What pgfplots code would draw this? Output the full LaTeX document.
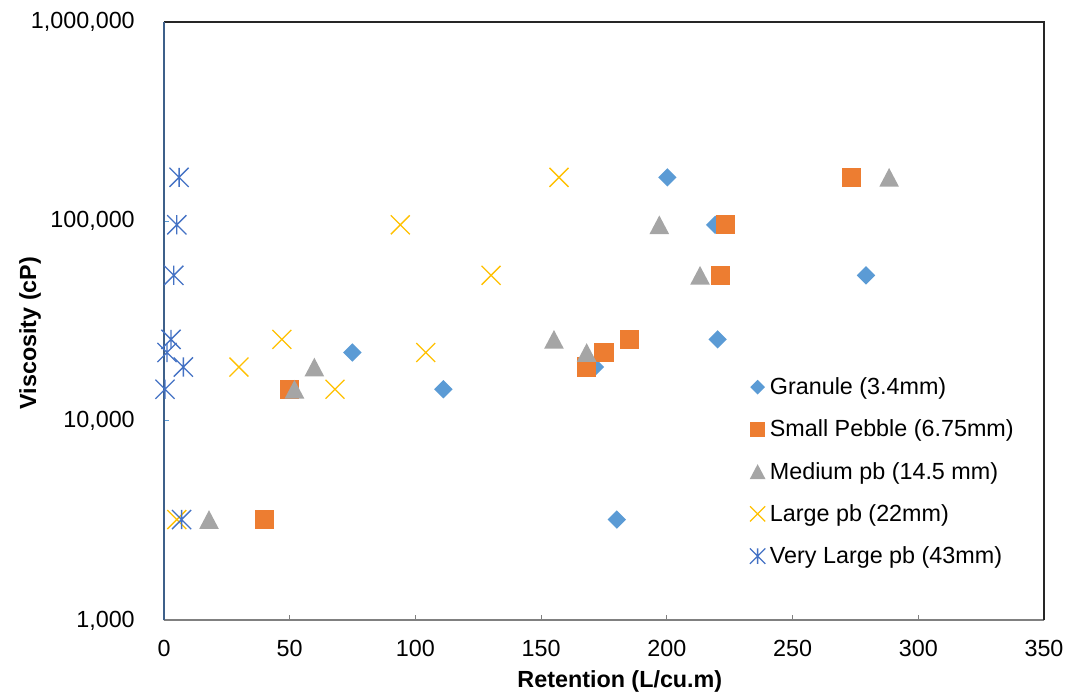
\documentclass[border=0pt]{standalone}
\usepackage{fontspec}
\setmainfont{Liberation Sans}
\usepackage{pgfplots}
\pgfplotsset{compat=1.18}
\usetikzlibrary{plotmarks}

\definecolor{cGran}{HTML}{5B9BD5}
\definecolor{cSmall}{HTML}{ED7D31}
\definecolor{cMed}{HTML}{A5A5A5}
\definecolor{cLarge}{HTML}{FFC000}
\definecolor{cVL}{HTML}{4472C4}
\definecolor{cYaxis}{RGB}{62,96,138}

\pgfdeclareplotmark{xdiamond}{%
  \pgfpathmoveto{\pgfqpoint{0pt}{\pgfplotmarksize}}%
  \pgfpathlineto{\pgfqpoint{\pgfplotmarksize}{0pt}}%
  \pgfpathlineto{\pgfqpoint{0pt}{-\pgfplotmarksize}}%
  \pgfpathlineto{\pgfqpoint{-\pgfplotmarksize}{0pt}}%
  \pgfpathclose\pgfusepathqfill}
\pgfdeclareplotmark{xsquare}{%
  \pgfpathrectangle{\pgfqpoint{-\pgfplotmarksize}{-\pgfplotmarksize}}{\pgfqpoint{2\pgfplotmarksize}{2\pgfplotmarksize}}%
  \pgfusepathqfill}
\pgfdeclareplotmark{xtri}{%
  \pgfpathmoveto{\pgfqpoint{0pt}{0.95\pgfplotmarksize}}%
  \pgfpathlineto{\pgfqpoint{\pgfplotmarksize}{-0.95\pgfplotmarksize}}%
  \pgfpathlineto{\pgfqpoint{-\pgfplotmarksize}{-0.95\pgfplotmarksize}}%
  \pgfpathclose\pgfusepathqfill}
\pgfdeclareplotmark{xcross}{%
  \pgfpathmoveto{\pgfqpoint{-\pgfplotmarksize}{-\pgfplotmarksize}}%
  \pgfpathlineto{\pgfqpoint{\pgfplotmarksize}{\pgfplotmarksize}}%
  \pgfpathmoveto{\pgfqpoint{-\pgfplotmarksize}{\pgfplotmarksize}}%
  \pgfpathlineto{\pgfqpoint{\pgfplotmarksize}{-\pgfplotmarksize}}%
  \pgfusepathqstroke}
\pgfdeclareplotmark{xstar}{%
  \pgfpathmoveto{\pgfqpoint{0pt}{\pgfplotmarksize}}%
  \pgfpathlineto{\pgfqpoint{0pt}{-\pgfplotmarksize}}%
  \pgfpathmoveto{\pgfqpoint{-\pgfplotmarksize}{-\pgfplotmarksize}}%
  \pgfpathlineto{\pgfqpoint{\pgfplotmarksize}{\pgfplotmarksize}}%
  \pgfpathmoveto{\pgfqpoint{-\pgfplotmarksize}{\pgfplotmarksize}}%
  \pgfpathlineto{\pgfqpoint{\pgfplotmarksize}{-\pgfplotmarksize}}%
  \pgfusepathqstroke}

\begin{document}
\begin{tikzpicture}
\begin{axis}[
  scale only axis,
  width=660pt, height=449pt,
  xmin=0, xmax=350, ymin=1000, ymax=1000000,
  ymode=log,
  axis line style={draw=none},
  xtick={0,50,100,150,200,250,300,350},
  xticklabels={0,50,100,150,200,250,300,350},
  ytick={1000,10000,100000,1000000},
  yticklabels={{1,000},{10,000},{100,000},{1,000,000}},
  yminorticks=false,
  tick align=inside,
  xtick pos=bottom, ytick pos=left,
  major tick length=4pt,
  x tick style={color=gray, line width=0.75pt},
  y tick style={color=cGran, line width=0.75pt},
  tick label style={font=\fontsize{17.5}{21}\selectfont, text=black},
  xticklabel style={anchor=north, inner sep=0pt, yshift=-15pt},
  yticklabel style={anchor=east, inner sep=0pt, xshift=-21.75pt},
  xlabel={Retention (L/cu.m)},
  ylabel={Viscosity (cP)},
  label style={font=\fontsize{17.5}{21}\selectfont\bfseries},
  xlabel style={at={(axis description cs:0.518,-0.1014)}, anchor=center},
  ylabel style={at={(axis description cs:-0.1523,0.48)}, anchor=center},
  clip=false,
  legend cell align=left,
  legend image code/.code={\draw[#1, every mark/.append style={scale=0.8}] plot coordinates {(0pt,0pt)};},
  legend style={draw=none, fill=none, at={(rel axis cs:0.6653,0.4058)}, anchor=north west,
    font=\fontsize{17.5}{21}\selectfont, inner sep=0pt, row sep=17.5pt, column sep=3.3pt,
    nodes={inner sep=0pt}},
]
\draw[color=gray, line width=1.5pt] (rel axis cs:0,0) -- (rel axis cs:1,0);
\draw[color=black!85, line width=1.5pt] (rel axis cs:1,0) -- (rel axis cs:1,1) -- (rel axis cs:0,1);
\draw[color=cYaxis, line width=2pt] (rel axis cs:0,0) -- (rel axis cs:0,1);

\addplot[only marks, color=cGran, mark=xdiamond, mark size=6.9pt] coordinates {
(200.2,166000) (219.2,96000) (279.2,53600) (220.2,25600) (74.9,22000) (171.4,18600) (111.1,14400) (180.1,3200)};
\addlegendentry{Granule (3.4mm)}
\addplot[only marks, color=cSmall, mark=xsquare, mark size=7.2pt] coordinates {
(273.3,166000) (223.2,96000) (221.2,53600) (185.1,25600) (175,22000) (168.1,18600) (49.9,14400) (39.9,3200)};
\addlegendentry{Small Pebble (6.75mm)}
\addplot[only marks, color=cMed, mark=xtri, mark size=7.4pt] coordinates {
(288.4,166000) (197,96000) (213.2,53600) (155.1,25600) (168.1,22000) (59.8,18600) (51.9,14400) (17.9,3200)};
\addlegendentry{Medium pb (14.5 mm)}
\addplot[only marks, color=cLarge, mark=xcross, mark size=7.1pt, line width=1pt] coordinates {
(157.1,166000) (94,96000) (130.1,53600) (46.9,25600) (104.1,22000) (29.8,18600) (68,14400) (5.1,3200)};
\addlegendentry{Large pb (22mm)}
\addplot[only marks, color=cVL, mark=xstar, mark size=7.2pt, line width=1pt] coordinates {
(6,166000) (5.1,96000) (3.9,53600) (2.8,25600) (1.2,22000) (7.7,18600) (0.4,14400) (7,3200)};
\addlegendentry{Very Large pb (43mm)}
\end{axis}
\pgfresetboundingbox
\path (-123pt,-53.8pt) rectangle (676.5pt,465.3pt);
\end{tikzpicture}
\end{document}
